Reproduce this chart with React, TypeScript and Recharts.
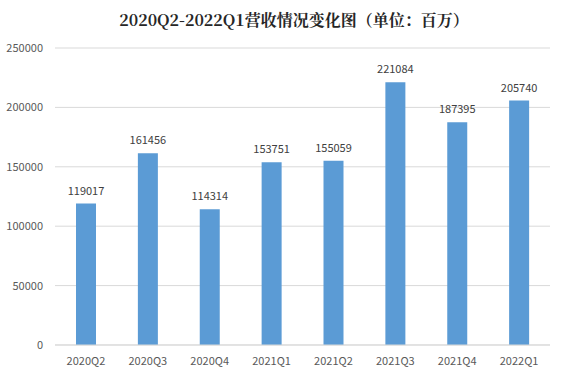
import { BarChart, Bar, XAxis, YAxis, CartesianGrid, LabelList } from 'recharts'

const quarters = ['2020Q2', '2020Q3', '2020Q4', '2021Q1', '2021Q2', '2021Q3', '2021Q4', '2022Q1']
const revenue  = [119017, 161456, 114314, 153751, 155059, 221084, 187395, 205740]
const yTicks   = [0, 50000, 100000, 150000, 200000, 250000]

const data = quarters.map((q, i) => ({ quarter: q, revenue: revenue[i] }))

const FONT = '"Noto Sans CJK SC", "Noto Sans", sans-serif'

export default function App() {
  return (
    <div style={{ position: 'absolute', left: 0, top: 0, width: 588, height: 376, background: '#fff', fontFamily: FONT }}>
      <div style={{ position: 'absolute', top: 8, left: 0, width: 588, textAlign: 'center', fontSize: 16, fontWeight: 'bold', color: '#262626', fontFamily: '"Noto Serif CJK SC", "Noto Sans CJK SC", serif' }}>
        2020Q2-2022Q1营收情况变化图（单位：百万）
      </div>
      <BarChart width={588} height={376} data={data} margin={{ top: 48, right: 38, left: 0, bottom: 6 }}>
        <CartesianGrid vertical={false} stroke="#d9d9d9" />
        <XAxis
          dataKey="quarter"
          height={25}
          tickLine={false}
          axisLine={{ stroke: '#d9d9d9' }}
          tick={{ fill: '#595959', fontSize: 11, fontFamily: FONT }}
          tickMargin={6}
        />
        <YAxis
          width={55}
          domain={[0, 250000]}
          ticks={yTicks}
          tickLine={false}
          axisLine={false}
          tick={{ fill: '#595959', fontSize: 11, fontFamily: FONT }}
          tickMargin={6}
        />
        <Bar dataKey="revenue" fill="#5b9bd5" barSize={20} isAnimationActive={false}>
          <LabelList dataKey="revenue" position="top" offset={9} fill="#404040" fontSize={11} fontFamily={FONT} />
        </Bar>
      </BarChart>
    </div>
  )
}
